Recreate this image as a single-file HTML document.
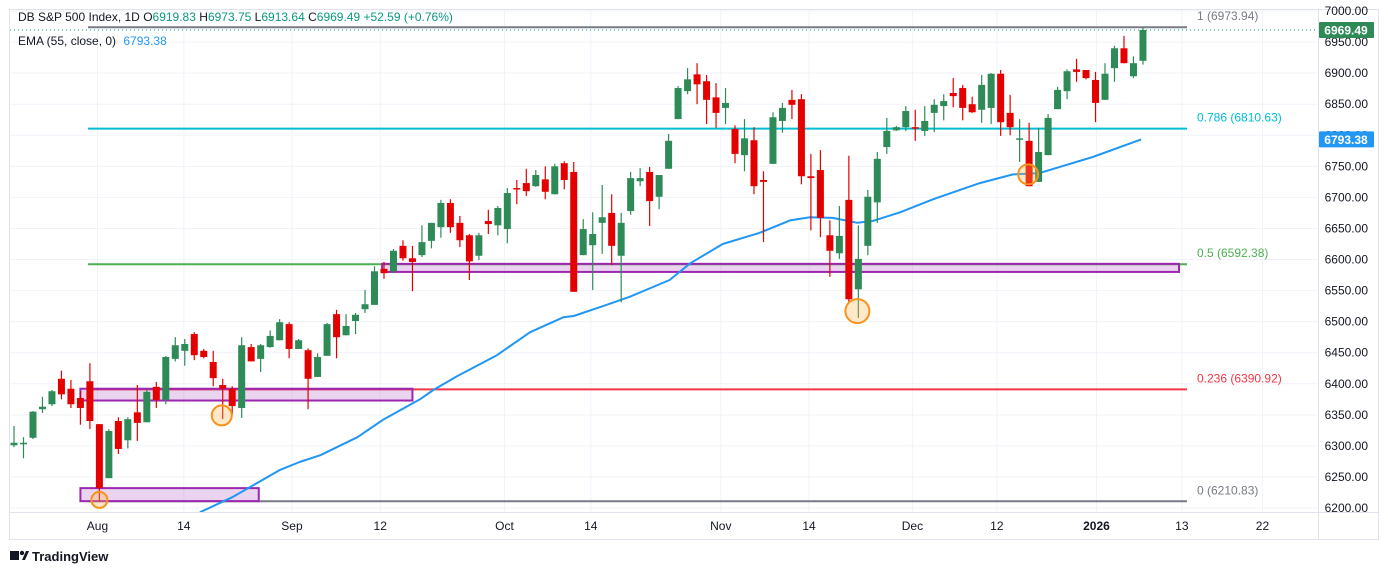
<!DOCTYPE html>
<html><head><meta charset="utf-8">
<style>
html,body{margin:0;padding:0;background:#fff;}
body{width:1388px;height:575px;overflow:hidden;font-family:"Liberation Sans","DejaVu Sans",sans-serif;}
svg text{font-family:"Liberation Sans","DejaVu Sans",sans-serif;}
</style></head>
<body>
<svg id="chart" width="1388" height="575" xmlns="http://www.w3.org/2000/svg">
  <rect x="9.5" y="9.5" width="1369" height="530" fill="#fff" stroke="#e0e3eb"/>
  <g id="grid"></g>
  <g id="levels"></g>
  <g id="boxes"></g>
  <g id="ema"></g>
  <g id="candles"></g>
  <g id="circles"></g>
  <g id="axes"></g>
  <text x="18" y="21" font-size="12" fill="#131722">DB S&amp;P 500 Index, 1D <tspan fill="#131722">O</tspan><tspan fill="#089981">6919.83</tspan> <tspan fill="#131722">H</tspan><tspan fill="#089981">6973.75</tspan> <tspan fill="#131722">L</tspan><tspan fill="#089981">6913.64</tspan> <tspan fill="#131722">C</tspan><tspan fill="#089981">6969.49 +52.59 (+0.76%)</tspan></text>
  <text x="18" y="45" font-size="12" fill="#131722">EMA (55, close, 0) <tspan fill="#2196f3" dx="4">6793.38</tspan></text>
  <g>
    <rect x="10" y="551" width="9" height="9" fill="#131722"/>
    <circle cx="22" cy="553" r="2.2" fill="#131722"/>
    <polygon points="22,560 26,551 29,551 25,560" fill="#131722"/>
    <text x="32" y="561" font-size="13" font-weight="bold" fill="#131722">TradingView</text>
  </g>
</svg>
<script>
const opens=[6301,6303,6313,6359,6367,6408,6392,6377,6404,6335,6248,6340,6309,6354,6338,6395,6374,6440,6453,6480,6453,6435,6398,6392,6361,6459,6440,6459,6470,6496,6456,6454,6411,6445,6512,6478,6501,6520,6527,6585,6581,6622,6602,6607,6630,6652,6691,6659,6639,6606,6662,6655,6649,6715,6723,6718,6729,6705,6755,6741,6607,6623,6659,6675,6606,6678,6726,6741,6701,6746,6826,6871,6898,6887,6861,6844,6810,6768,6792,6728,6754,6823,6857,6858,6734,6744,6639,6610,6696,6552,6622,6692,6781,6808,6813,6813,6807,6836,6847,6868,6876,6850,6841,6844,6899,6836,6794,6791,6725,6768,6842,6871,6906,6905,6889,6857,6908,6940,6895,6919.83];
const highs=[6332,6314,6356,6379,6390,6421,6406,6388,6433,6335,6327,6346,6346,6398,6390,6403,6445,6475,6472,6483,6456,6453,6408,6396,6475,6464,6464,6486,6504,6499,6472,6457,6449,6498,6519,6512,6514,6551,6589,6596,6617,6631,6622,6655,6659,6696,6697,6670,6641,6643,6680,6686,6715,6728,6746,6744,6750,6754,6758,6757,6665,6676,6720,6705,6675,6741,6747,6749,6736,6802,6879,6908,6916,6897,6884,6876,6816,6826,6813,6742,6837,6852,6873,6866,6770,6776,6663,6686,6767,6655,6712,6773,6828,6815,6847,6841,6847,6858,6866,6892,6881,6862,6897,6900,6905,6865,6826,6820,6812,6834,6878,6906,6923,6905,6902,6916,6944,6960,6927,6973.75];
const lows=[6298,6280,6311,6353,6364,6375,6361,6334,6327,6210,6248,6287,6296,6308,6338,6361,6367,6436,6429,6438,6441,6396,6343,6350,6345,6436,6419,6458,6470,6441,6456,6359,6411,6445,6441,6478,6480,6514,6527,6569,6578,6598,6549,6604,6618,6635,6643,6620,6567,6599,6641,6639,6626,6689,6702,6717,6697,6705,6713,6548,6607,6551,6609,6591,6531,6672,6718,6654,6681,6746,6826,6866,6850,6818,6812,6818,6755,6742,6705,6628,6754,6804,6826,6721,6647,6636,6572,6601,6531,6506,6607,6659,6770,6807,6807,6791,6799,6805,6824,6845,6824,6836,6820,6818,6799,6800,6757,6718,6725,6768,6842,6858,6886,6890,6821,6857,6886,6916,6892,6913.64];
const closes=[6305,6305,6355,6363,6388,6383,6367,6361,6340,6232,6324,6295,6343,6337,6387,6374,6443,6462,6464,6446,6443,6409,6392,6364,6462,6436,6462,6477,6499,6456,6470,6408,6443,6496,6475,6493,6511,6528,6581,6578,6614,6602,6596,6628,6659,6691,6652,6631,6597,6639,6657,6683,6707,6713,6710,6736,6709,6750,6728,6548,6649,6641,6668,6622,6659,6731,6731,6694,6736,6791,6876,6890,6882,6857,6836,6852,6770,6795,6718,6725,6829,6844,6849,6734,6731,6667,6614,6638,6536,6601,6701,6762,6807,6813,6839,6812,6823,6849,6855,6863,6844,6837,6881,6899,6821,6813,6795,6718,6773,6828,6873,6903,6902,6892,6852,6899,6940,6916,6916,6969.49];
const emaIdx=[19.6,23.1,28,30.1,32.3,36.2,38.9,42.8,44.2,46.7,50.9,54.4,57.9,59,62.1,64.9,69.1,71.3,74.7,78.6,81.8,83.9,86.3,88.9,90.5,93.4,96.9,101.8,105.3,108.1,113.7,118.8];
const emaVals=[6193,6218,6261,6274,6285,6314,6342,6375,6390,6412,6446,6483,6507,6509,6525,6540,6567,6594,6625,6643,6663,6668,6667,6659,6662,6676,6697,6723,6737,6739,6765,6793.38];
const priceTicks=[6200,6250,6300,6350,6400,6450,6500,6550,6600,6650,6700,6750,6800,6850,6900,6950,7000];
const dateLabels=["Aug","14","Sep","12","Oct","14","Nov","14","Dec","12","2026","13","22"];
const datePos=[8.8,17.9,29.3,38.6,51.7,60.8,74.5,83.8,94.7,103.6,114.1,123.1,131.6];
const fibNames=["1","0.786","0.5","0.236","0"];
const fibVals=[6973.94,6810.63,6592.38,6390.92,6210.83];
const fibColors=["#787b86","#00bcd4","#4caf50","#f23645","#787b86"];
const zoneStart=[7.0,7.0,38.8];
const zoneEnd=[42.0,25.8,122.8];
const zoneLow=[6373,6211,6580];
const zoneHigh=[6392,6232,6593];
const circleIdx=[9,21.9,88.9,106.9];
const circleVal=[6213,6349,6517,6737];
const circleR=[8,10,12,10];

const NS="http://www.w3.org/2000/svg";
const X0=14,DX=9.487,PLOT_L=10,PLOT_R=1318,PLOT_T=10,PLOT_B=512;
const xs=i=>X0+i*DX;
const ys=p=>508-(p-6200)*0.62125;
function mk(tag,attrs,parent){const e=document.createElementNS(NS,tag);for(const k in attrs)e.setAttribute(k,attrs[k]);parent.appendChild(e);return e;}
const G=id=>document.getElementById(id);
// clip
const defs=mk('defs',{},G('chart'));
const cp=mk('clipPath',{id:'plotclip'},defs);
mk('rect',{x:PLOT_L,y:PLOT_T,width:PLOT_R-PLOT_L,height:PLOT_B-PLOT_T},cp);
['levels','boxes','ema','candles','circles','grid'].forEach(id=>G(id).setAttribute('clip-path','url(#plotclip)'));

// grid + axes
priceTicks.forEach((p,i)=>{
  const y=ys(p);
  const l=mk('line',{x1:PLOT_L,x2:PLOT_R,y1:y,y2:y,stroke:'#f0f3fa','stroke-width':1},G('grid'));
  
  
  const t=mk('text',{x:1368,y:y+4,'text-anchor':'end','font-size':12,fill:'#131722'},G('axes'));
  t.textContent=p.toFixed(2);
  
  
});
datePos.forEach((d,i)=>{
  const x=xs(d);
  const l=mk('line',{x1:x,x2:x,y1:PLOT_T,y2:PLOT_B,stroke:'#f0f3fa','stroke-width':1},G('grid'));
  
  
  const t=mk('text',{x:x,y:530,'text-anchor':'middle','font-size':12,fill:'#131722','font-weight':dateLabels[i]==='2026'?'bold':'normal'},G('axes'));
  t.textContent=dateLabels[i];
  
  
});
const ax1=mk('line',{x1:PLOT_L,x2:1378,y1:PLOT_B+0.5,y2:PLOT_B+0.5,stroke:'#e0e3eb'},G('axes'));


const ax2=mk('line',{x1:PLOT_R+0.5,x2:PLOT_R+0.5,y1:PLOT_T,y2:540,stroke:'#e0e3eb'},G('axes'));



// fib levels
fibVals.forEach((v,i)=>{
  const y=ys(v);
  const l=mk('line',{x1:88,x2:1187,y1:y,y2:y,stroke:fibColors[i],'stroke-width':2},G('levels'));
  
  
  const t=mk('text',{x:1197,y:y-7,'font-size':12,fill:fibColors[i]},G('axes'));
  t.textContent=fibNames[i]+' ('+v.toFixed(2)+')';
  
  
});
// zones
zoneStart.forEach((s,i)=>{
  const x1=xs(s),x2=xs(zoneEnd[i]),y1=ys(zoneHigh[i]),y2=ys(zoneLow[i]);
  const r=mk('rect',{x:x1,y:y1,width:x2-x1,height:y2-y1,fill:'rgba(156,39,176,0.2)',stroke:'#9c27b0','stroke-width':2},G('boxes'));
  
  
});
// ema
let d='';
emaIdx.forEach((ix,i)=>{d+=(i?'L':'M')+xs(ix).toFixed(1)+','+ys(emaVals[i]).toFixed(1);});
const ep=mk('path',{d:d,fill:'none',stroke:'#2196f3','stroke-width':2,'stroke-linejoin':'round'},G('ema'));


// last close dotted line
const cl=ys(closes[closes.length-1]);
const dl=mk('line',{x1:PLOT_L,x2:PLOT_R,y1:cl,y2:cl,stroke:'#089981','stroke-width':1,'stroke-dasharray':'1,3'},G('levels'));


// candles
opens.forEach((o,i)=>{
  const c=closes[i],h=highs[i],l=lows[i],x=xs(i);
  const up=c>=o,col=up?'#2e8b57':'#e50000';
  const g=mk('g',{},G('candles'));
  
  
  mk('line',{x1:x,x2:x,y1:ys(h),y2:ys(l),stroke:col,'stroke-width':1.2},g);
  const top=ys(Math.max(o,c)),bot=ys(Math.min(o,c));
  mk('rect',{x:x-3.5,y:top,width:7,height:Math.max(1.5,bot-top),fill:col},g);
});
// circles
circleIdx.forEach((ix,i)=>{
  const c=mk('circle',{cx:xs(ix),cy:ys(circleVal[i]),r:circleR[i],fill:'rgba(255,183,77,0.3)',stroke:'#f7931a','stroke-width':2},G('circles'));
  
  
});
// price tags
function tag(v,col,name){
  const y=ys(v);
  const g=mk('g',{},G('axes'));
  
  
  mk('rect',{x:1319,y:y-8,width:55,height:16,fill:col,rx:1},g);
  const t=mk('text',{x:1346,y:y+4.5,'text-anchor':'middle','font-size':12,fill:'#fff','font-weight':'bold'},g);
  t.textContent=v.toFixed(2);
}
tag(closes[closes.length-1],'#2e8b57','last-price-tag');
tag(emaVals[emaVals.length-1],'#2196f3','ema-price-tag');
</script>
</body></html>
